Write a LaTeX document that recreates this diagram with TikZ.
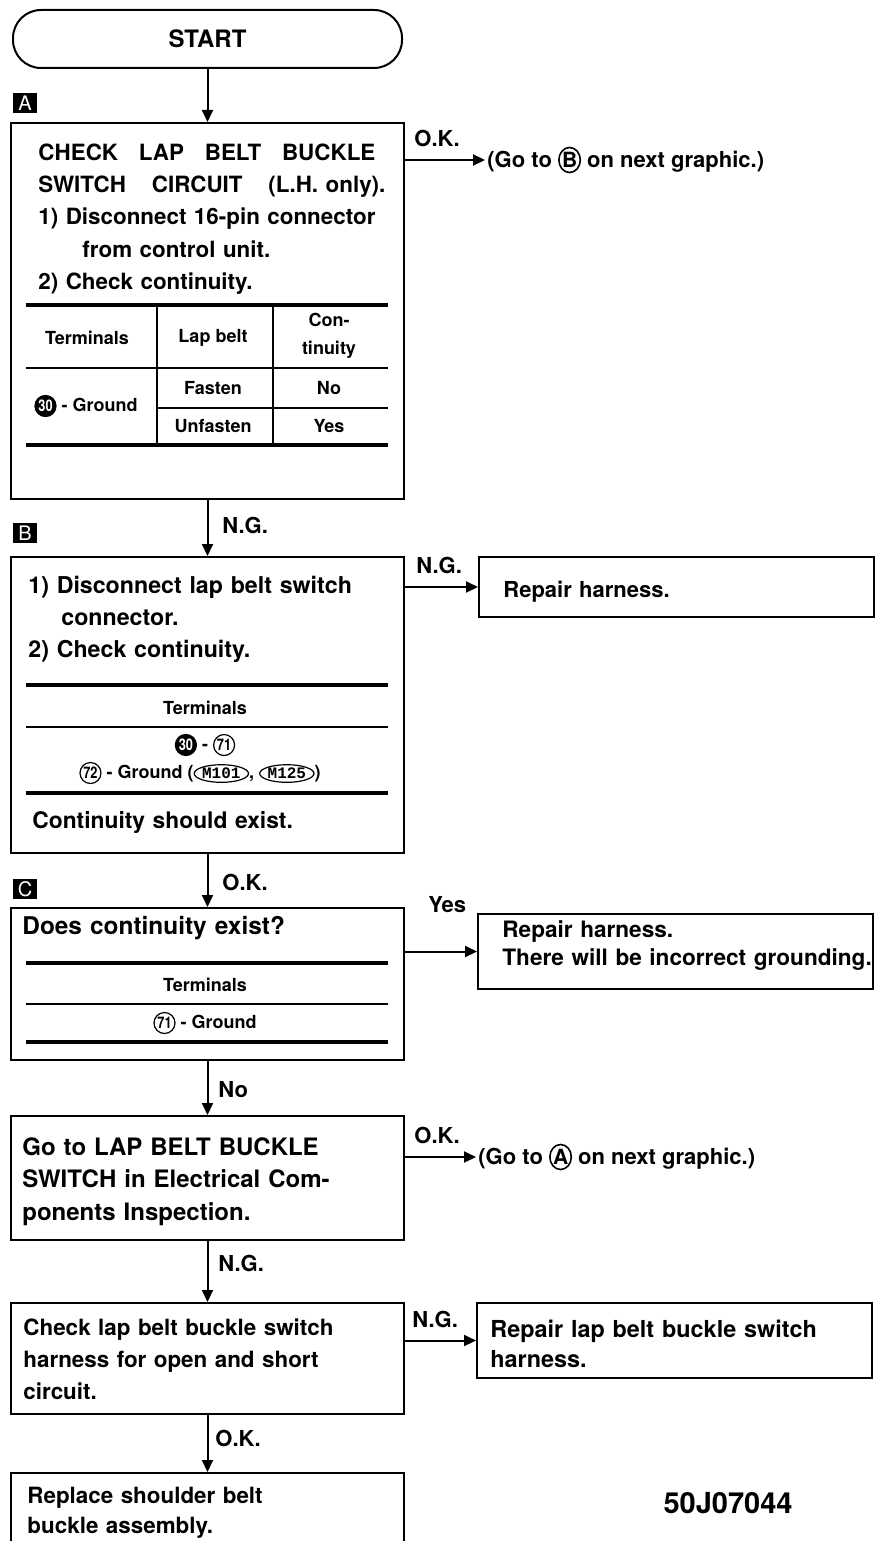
\documentclass[tikz,border=0pt]{standalone}
\usepackage{fontspec}
\usepackage{graphicx}
\setmainfont{TeX Gyre Heros}
\newfontfamily\monofont{Liberation Mono}
\usetikzlibrary{arrows.meta,positioning,shapes.geometric}

\newcommand{\bx}[2]{\fontsize{#1}{#2}\selectfont\bfseries}

\tikzset{
  pinring/.style={circle, draw, line width=0.6pt, inner sep=0pt, minimum size=10.5pt, font=\bx{8}{8}},
  pinblack/.style={pinring, fill=black, text=white},
  connring/.style={ellipse, draw, line width=0.6pt, inner xsep=0pt, inner ysep=0.4pt, font=\monofont\fontsize{8}{9}\selectfont},
  letring/.style={ellipse, draw, line width=0.8pt, inner sep=0pt, minimum width=10pt, minimum height=12.5pt, font=\fontsize{10.5}{11}\selectfont}
}
\newcommand{\pinno}[1]{\tikz[baseline=(p.base)]\node[pinring](p){\scalebox{0.8}[1]{#1}};}
\newcommand{\pinblk}[1]{\tikz[baseline=(p.base)]\node[pinblack](p){\scalebox{0.8}[1]{#1}};}
\newcommand{\conn}[1]{\tikz[baseline=(m.base)]\node[connring](m){#1};}
\newcommand{\letcirc}[1]{\tikz[baseline=(g.base)]\node[letring](g){#1};}

\begin{document}
\begin{tikzpicture}[x=0.5pt, y=-0.5pt,
    flowbox/.style={draw, line width=1pt, inner sep=0pt, minimum width=196.5pt},
    startbox/.style={draw, line width=1pt, rounded corners=14pt, minimum width=194.5pt, minimum height=29pt, font=\bx{12}{14}},
    sidebox/.style={draw, line width=1pt, inner sep=0pt, minimum width=197.5pt},
    txt/.style={anchor=base west, inner sep=0pt, align=left, text width=190pt},
    cell/.style={inner sep=0pt, font=\bx{9}{14}, align=center},
    lbl/.style={anchor=west, inner sep=0pt, font=\bx{11}{13}},
    gonote/.style={anchor=west, inner sep=1pt, font=\bx{11}{13}},
    tag/.style={fill=black, text=white, inner sep=0pt, minimum width=12pt, minimum height=10pt, font=\fontsize{10}{10}\selectfont},
    arr/.style={-{Triangle[length=6pt,width=5.5pt]}, line width=1pt},
    heavy/.style={line width=1.8pt},
    light/.style={line width=0.9pt}
  ]
  \useasboundingbox (0,0) rectangle (875,1541);
  \clip (0,0) rectangle (875,1541);
  \fill[white] (0,0) rectangle (875,1541);

  % start
  \node[startbox] (start) at (207.5,39) {START};
  \node[tag] (tagA) at (25,103) {A};

  % A: buckle switch circuit
  \node[flowbox, minimum height=188pt] (chk) at (207.5,311) {};
  \node[txt, font=\bx{11.2}{16}] (chkT) at (38,161) {\makebox[168.5pt][l]{CHECK\hfill LAP\hfill BELT\hfill BUCKLE}\\\makebox[173.5pt][l]{SWITCH\hfill CIRCUIT\hfill (L.H. only).}\\1) Disconnect 16-pin connector\\\hspace*{22pt}from control unit.\\2) Check continuity.};
  \draw[heavy] (26,305) -- (388,305);
  \draw[light] (26,368) -- (388,368);
  \draw[light] (157,408) -- (388,408);
  \draw[heavy] (26,445) -- (388,445);
  \draw[light] (157,305) -- (157,445);
  \draw[light] (273,305) -- (273,445);
  \node[cell] (hTerm) at (87,338) {Terminals};
  \node[cell] (hLap) at (213,338) {Lap belt};
  \node[cell] (hCont) at (329,336) {Con-\\tinuity};
  \node[cell] (aGnd) at (86,406) {\pinblk{30} - Ground};
  \node[cell] (fasten) at (213,388) {Fasten};
  \node[cell] (unfast) at (213,426) {Unfasten};
  \node[cell] (aNo) at (329,388) {No};
  \node[cell] (aYes) at (329,426) {Yes};
  \node[lbl] (okA) at (414,138) {O.K.};
  \node[gonote] (goB) at (485,160) {(Go to \letcirc{B} on next graphic.)};

  % B: lap belt switch connector
  \node[tag] (tagB) at (25,533) {B};
  \node[flowbox, minimum height=148pt] (disc) at (207.5,705) {};
  \node[txt, font=\bx{11.6}{16}] (discT) at (28,593) {1) Disconnect lap belt switch\\\hspace*{16.5pt}connector.\\2) Check continuity.};
  \draw[heavy] (26,685) -- (388,685);
  \node[cell] (bTerm) at (205,708) {Terminals};
  \draw[light] (26,727) -- (388,727);
  \node[cell] (bPair) at (205,745) {\pinblk{30} - \pinno{71}};
  \node[cell] (bGnd) at (200,773) {\pinno{72} - Ground (\conn{M101}, \conn{M125})};
  \draw[heavy] (26,793) -- (388,793);
  \node[txt, font=\bx{11.4}{16}] (discN) at (32,828) {Continuity should exist.};
  \node[sidebox, minimum height=30pt] (rep1) at (676.5,587) {};
  \node[txt, font=\bx{11}{14}] (rep1T) at (503,597) {Repair harness.};
  \node[lbl] (ngB) at (416,565) {N.G.};

  % C: ground check
  \node[tag] (tagC) at (25,889) {C};
  \node[flowbox, minimum height=76pt] (cont) at (207.5,984) {};
  \node[txt, font=\bx{12.2}{16}] (contT) at (22,934) {Does continuity exist?};
  \draw[heavy] (26,963) -- (388,963);
  \node[cell] (cTerm) at (205,985) {Terminals};
  \draw[light] (26,1004) -- (388,1004);
  \node[cell] (cGnd) at (205,1023) {\pinno{71} - Ground};
  \draw[heavy] (26,1042) -- (388,1042);
  \node[sidebox, minimum height=37.5pt] (rep2) at (675.5,951.5) {};
  \node[txt, font=\bx{11.3}{14}] (rep2T) at (502,937) {Repair harness.\\There will be incorrect grounding.};
  \node[lbl] (yesC) at (428,905) {Yes};

  % component inspection
  \node[flowbox, minimum height=62pt] (inspD) at (207.5,1178) {};
  \node[txt, font=\bx{12}{16.25}] (inspT) at (22,1155) {Go to LAP BELT BUCKLE\\SWITCH in Electrical Com-\\ponents Inspection.};
  \node[lbl] (okD) at (414,1135) {O.K.};
  \node[gonote] (goA) at (476,1157) {(Go to \letcirc{A} on next graphic.)};

  % harness check
  \node[flowbox, minimum height=55.5pt] (harn) at (207.5,1358.5) {};
  \node[txt, font=\bx{11.2}{16}] (harnT) at (23,1335) {Check lap belt buckle switch\\harness for open and short\\circuit.};
  \node[sidebox, minimum height=37.5pt] (rep3) at (674.5,1340.5) {};
  \node[txt, font=\bx{11.7}{15}] (rep3T) at (490,1337) {Repair lap belt buckle switch\\harness.};
  \node[lbl] (ngE) at (412,1319) {N.G.};

  % replace buckle
  \node[flowbox, minimum height=45pt, anchor=north] (repl) at (207.5,1472) {};
  \node[txt, font=\bx{11.2}{15}] (replT) at (27,1503) {Replace shoulder belt\\buckle assembly.};
  \node[font=\bx{14.5}{16}, inner sep=0pt] (figno) at (728,1503) {50J07044};

  % labels on the down arrows
  \node[lbl] (ngA) at (222,525) {N.G.};
  \node[lbl] (okB) at (222,882) {O.K.};
  \node[lbl] (noC) at (218,1090) {No};
  \node[lbl] (ngD) at (218,1263) {N.G.};
  \node[lbl] (okE) at (215,1438) {O.K.};

  % connectors
  \draw[arr] (start.south) -- (chk.north);
  \draw[arr] (chk.south) -- (disc.north);
  \draw[arr] (disc.south) -- (cont.north);
  \draw[arr] (cont.south) -- (inspD.north);
  \draw[arr] (inspD.south) -- (harn.north);
  \draw[arr] (harn.south) -- (repl.north);
  \draw[arr] (goB.west -| chk.east) -- (goB.west);
  \draw[arr] (rep1.west -| disc.east) -- (rep1.west);
  \draw[arr] (rep2.west -| cont.east) -- (rep2.west);
  \draw[arr] (goA.west -| inspD.east) -- (goA.west);
  \draw[arr] (rep3.west -| harn.east) -- (rep3.west);
\end{tikzpicture}
\end{document}
